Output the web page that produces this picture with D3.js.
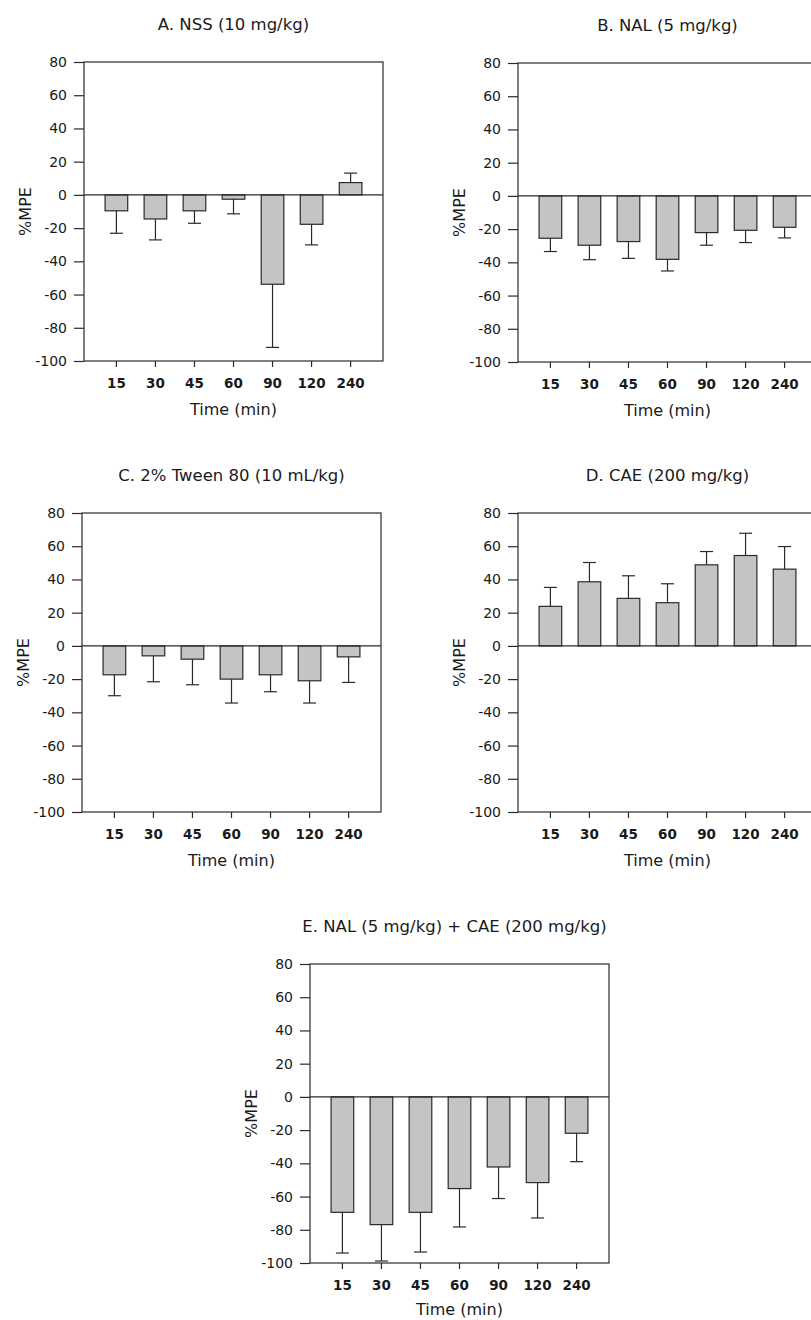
<!DOCTYPE html>
<html lang="en">
	<head>
		<meta charset="UTF-8" />
		<title>%MPE over time</title>
		<style>
			html,
			body {
				margin: 0;
				padding: 0;
				background-color: #fff;
			}

			#chart {
				display: block;
			}

			.panel-title,
			.x-label,
			.x-axis text,
			.y-axis text,
			.y-label {
				font-family: 'DejaVu Sans', sans-serif;
				fill: #1a1a1a;
			}
		</style>
	</head>
	<body>
		<svg id="chart"></svg>

		<script src="https://d3js.org/d3.v7.min.js"></script>

		<script>
			// categories and ticks
			const times = ['15', '30', '45', '60', '90', '120', '240'];
			const yTicks = [80, 60, 40, 20, 0, -20, -40, -60, -80, -100];

			// mean %MPE per time point, and SEM
			const nssMean = [-9.6, -14.5, -9.6, -2.6, -53.8, -17.7, 7.4];
			const nssSem = [13.5, 12.6, 7.5, 8.8, 38, 12.4, 5.7];

			const nalMean = [-25.5, -29.7, -27.5, -38.2, -22.1, -20.7, -18.9];
			const nalSem = [8, 8.7, 10.1, 7, 7.6, 7.4, 6.4];

			const tweenMean = [-17.4, -6, -8, -20, -17.4, -21, -6.6];
			const tweenSem = [12.6, 15.6, 15.4, 14.4, 10.2, 13.4, 15.4];

			const caeMean = [23.8, 38.6, 28.6, 26, 48.8, 54.4, 46.2];
			const caeSem = [11.4, 11.6, 13.6, 11.4, 8, 13.4, 13.6];

			const nalCaeMean = [-69.5, -76.9, -69.5, -55.2, -42.2, -51.6, -21.9];
			const nalCaeSem = [24.5, 21.9, 23.9, 23.1, 19, 21.3, 17.1];

			const titles = [
				'A. NSS (10 mg/kg)',
				'B. NAL (5 mg/kg)',
				'C. 2% Tween 80 (10 mL/kg)',
				'D. CAE (200 mg/kg)',
				'E. NAL (5 mg/kg) + CAE (200 mg/kg)'
			];

			const width = 811;
			const height = 1320;
			const plotW = 299;
			const plotH = 299;
			const ink = '#2a2a2a';

			const svg = d3.select('#chart').attr('width', width).attr('height', height);

			const panels = [
				{ title: titles[0], mean: nssMean, sem: nssSem, x: 84, y: 62, tx: 0, lx: 54 },
				{ title: titles[1], mean: nalMean, sem: nalSem, x: 518, y: 63, tx: 0, lx: 54 },
				{ title: titles[2], mean: tweenMean, sem: tweenSem, x: 82, y: 513, tx: 0, lx: 54 },
				{ title: titles[3], mean: caeMean, sem: caeSem, x: 518, y: 513, tx: 0, lx: 54 },
				{ title: titles[4], mean: nalCaeMean, sem: nalCaeSem, x: 310, y: 964, tx: -5, lx: 52 }
			];

			const x = d3.scaleBand().domain(times).range([0, plotW]).paddingInner(0.42).paddingOuter(0.54);
			const y = d3.scaleLinear().domain([-100, 80]).range([plotH, 0]);

			function drawPanel(p) {
				const g = svg.append('g').attr('transform', `translate(${p.x},${p.y})`);
				const rows = times.map((t, i) => ({ t, m: p.mean[i], s: p.sem[i] }));

				// frame
				g.append('rect')
					.attr('width', plotW)
					.attr('height', plotH)
					.attr('fill', 'none')
					.attr('stroke', ink)
					.attr('stroke-width', 1.2);

				// bars
				g.selectAll('rect.bar')
					.data(rows)
					.join('rect')
					.attr('class', 'bar')
					.attr('x', (d) => x(d.t))
					.attr('width', x.bandwidth())
					.attr('y', (d) => y(Math.max(0, d.m)))
					.attr('height', (d) => Math.abs(y(d.m) - y(0)))
					.attr('fill', '#c4c4c4')
					.attr('stroke', ink)
					.attr('stroke-width', 1.2);

				// one-sided error bars
				const errEnd = (d) => (d.m >= 0 ? d.m + d.s : d.m - d.s);
				const cx = (d) => x(d.t) + x.bandwidth() / 2;

				g.selectAll('line.err')
					.data(rows)
					.join('line')
					.attr('class', 'err')
					.attr('x1', cx)
					.attr('x2', cx)
					.attr('y1', (d) => y(d.m))
					.attr('y2', (d) => y(errEnd(d)))
					.attr('stroke', ink)
					.attr('stroke-width', 1.2);

				g.selectAll('line.cap')
					.data(rows)
					.join('line')
					.attr('class', 'cap')
					.attr('x1', (d) => cx(d) - 6.5)
					.attr('x2', (d) => cx(d) + 6.5)
					.attr('y1', (d) => y(errEnd(d)))
					.attr('y2', (d) => y(errEnd(d)))
					.attr('stroke', ink)
					.attr('stroke-width', 1.2);

				// zero line
				g.append('line')
					.attr('x1', 0)
					.attr('x2', plotW)
					.attr('y1', y(0))
					.attr('y2', y(0))
					.attr('stroke', ink)
					.attr('stroke-width', 1.2);

				// axes
				const yAxis = g
					.append('g')
					.attr('class', 'y-axis')
					.call(
						d3
							.axisLeft(y)
							.tickValues(yTicks)
							.tickSize(10)
							.tickPadding(7)
							.tickFormat((d) => String(d))
					);
				yAxis.select('.domain').remove();
				yAxis.selectAll('line').attr('stroke', ink).attr('stroke-width', 1.2);
				yAxis.selectAll('text').attr('font-size', 14);

				const xAxis = g
					.append('g')
					.attr('class', 'x-axis')
					.attr('transform', `translate(0,${plotH})`)
					.call(d3.axisBottom(x).tickSize(6).tickPadding(11));
				xAxis.select('.domain').remove();
				xAxis.selectAll('line').attr('stroke', ink).attr('stroke-width', 1.2);
				xAxis.selectAll('text').attr('font-size', 13.5).attr('font-weight', 'bold');

				// labels
				g.append('text')
					.attr('class', 'y-label')
					.attr('transform', `translate(-53,${plotH / 2}) rotate(-90)`)
					.attr('text-anchor', 'middle')
					.attr('font-size', 16)
					.text('%MPE');

				g.append('text')
					.attr('class', 'x-label')
					.attr('x', plotW / 2)
					.attr('y', plotH + p.lx)
					.attr('text-anchor', 'middle')
					.attr('font-size', 16)
					.text('Time (min)');

				g.append('text')
					.attr('class', 'panel-title')
					.attr('x', plotW / 2 + p.tx)
					.attr('y', -32)
					.attr('text-anchor', 'middle')
					.attr('font-size', 16.5)
					.text(p.title);
			}

			panels.forEach(drawPanel);
		</script>
	</body>
</html>
